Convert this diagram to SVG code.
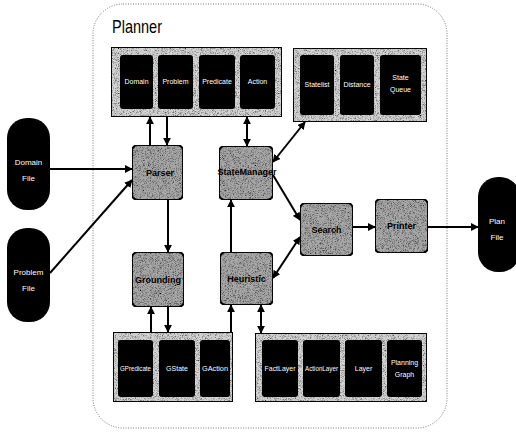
<svg xmlns="http://www.w3.org/2000/svg" width="516" height="433" viewBox="0 0 516 433">
  <defs>
    <filter id="grain" x="0" y="0" width="100%" height="100%">
      <feTurbulence type="fractalNoise" baseFrequency="1.6" numOctaves="1" seed="3" result="n"/>
      <feColorMatrix in="n" type="matrix" values="0 0 0 0 0  0 0 0 0 0  0 0 0 0 0  0 0 0 -2.6 1.45" result="dots"/>
      <feComposite in="dots" in2="SourceGraphic" operator="in" result="clip"/>
      <feMerge><feMergeNode in="SourceGraphic"/><feMergeNode in="clip"/></feMerge>
    </filter>
    <marker id="ah" viewBox="0 0 10 10" refX="9" refY="5" markerWidth="8" markerHeight="8" markerUnits="userSpaceOnUse" orient="auto-start-reverse">
      <path d="M0,0 L10,5 L0,10 z" fill="#000"/>
    </marker>
    <style>
      .frame { fill: #d4d4d4; stroke: #111; stroke-width: 2; filter: url(#grain); }
      .cell { fill: #000; }
      .mod { fill: #a8a8a8; stroke: #111; stroke-width: 2; filter: url(#grain); }
      .file { fill: #000; }
      .ct { font-family: "Liberation Sans", Arial, sans-serif; font-size: 7px; fill: #fff; text-anchor: middle; }
      .ft { font-family: "Liberation Sans", Arial, sans-serif; font-size: 8px; fill: #fff; text-anchor: middle; }
      .mt { font-family: "Liberation Sans", Arial, sans-serif; font-size: 9px; font-weight: bold; fill: #000; text-anchor: middle; }
      .edge { stroke: #000; stroke-width: 2; fill: none; }
      .bound { fill: none; stroke: #777; stroke-width: 1; stroke-dasharray: 1 1.5; }
    </style>
  </defs>

  <rect width="516" height="433" fill="#fff"/>

  <!-- planner boundary -->
  <g id="planner">
    <rect class="bound" x="93" y="4" width="354" height="424" rx="30"/>
    <text x="112" y="33" font-family="Liberation Sans, Arial, sans-serif" font-size="19" fill="#000" textLength="50" lengthAdjust="spacingAndGlyphs">Planner</text>
  </g>

  <!-- input / output files -->
  <g id="domain-file">
    <rect class="file" x="7" y="118" width="43" height="92" rx="20"/>
    <text class="ft" x="28.5" y="165">Domain</text>
    <text class="ft" x="28.5" y="181">File</text>
  </g>
  <g id="problem-file">
    <rect class="file" x="7" y="228" width="43" height="94" rx="20"/>
    <text class="ft" x="28.5" y="275">Problem</text>
    <text class="ft" x="28.5" y="291">File</text>
  </g>
  <g id="plan-file">
    <rect class="file" x="478" y="177" width="42" height="95" rx="20"/>
    <text class="ft" x="497" y="224">Plan</text>
    <text class="ft" x="497" y="240">File</text>
  </g>

  <!-- data blocks -->
  <g id="parsed-data">
    <rect class="frame" x="111" y="47" width="171" height="70"/>
    <rect class="cell" x="120" y="55" width="33" height="54" rx="3"/>
    <rect class="cell" x="158" y="55" width="35" height="54" rx="3"/>
    <rect class="cell" x="199" y="55" width="36" height="54" rx="3"/>
    <rect class="cell" x="240" y="55" width="35" height="54" rx="3"/>
    <text class="ct" x="136.5" y="84">Domain</text>
    <text class="ct" x="175.5" y="84">Problem</text>
    <text class="ct" x="217" y="84">Predicate</text>
    <text class="ct" x="257.5" y="84">Action</text>
  </g>
  <g id="state-data">
    <rect class="frame" x="293" y="48" width="134" height="74"/>
    <rect class="cell" x="300" y="55" width="34" height="60" rx="3"/>
    <rect class="cell" x="340" y="55" width="34" height="60" rx="3"/>
    <rect class="cell" x="380" y="55" width="41" height="60" rx="3"/>
    <text class="ct" x="317" y="87">Statelist</text>
    <text class="ct" x="357" y="87">Distance</text>
    <text class="ct" x="400.5" y="80">State</text>
    <text class="ct" x="400.5" y="92">Queue</text>
  </g>
  <g id="ground-data">
    <rect class="frame" x="113" y="332" width="120" height="70"/>
    <rect class="cell" x="118" y="340" width="35" height="57" rx="3"/>
    <rect class="cell" x="159" y="340" width="36" height="57" rx="3"/>
    <rect class="cell" x="200" y="340" width="30" height="57" rx="3"/>
    <text class="ct" x="135.5" y="371" textLength="31" lengthAdjust="spacingAndGlyphs">GPredicate</text>
    <text class="ct" x="177" y="371">GState</text>
    <text class="ct" x="215" y="371" textLength="26" lengthAdjust="spacingAndGlyphs">GAction</text>
  </g>
  <g id="graph-data">
    <rect class="frame" x="255" y="333" width="172" height="69"/>
    <rect class="cell" x="262" y="340" width="36" height="57" rx="3"/>
    <rect class="cell" x="303" y="340" width="37" height="57" rx="3"/>
    <rect class="cell" x="345" y="340" width="37" height="57" rx="3"/>
    <rect class="cell" x="387" y="340" width="35" height="57" rx="3"/>
    <text class="ct" x="280" y="371" textLength="31" lengthAdjust="spacingAndGlyphs">FactLayer</text>
    <text class="ct" x="321.5" y="371" textLength="33" lengthAdjust="spacingAndGlyphs">ActionLayer</text>
    <text class="ct" x="363.5" y="371">Layer</text>
    <text class="ct" x="404.5" y="365">Planning</text>
    <text class="ct" x="404.5" y="377">Graph</text>
  </g>

  <!-- processing modules -->
  <g id="parser">
    <rect class="mod" x="132" y="145" width="51" height="55" rx="6"/>
    <text class="mt" x="160" y="176">Parser</text>
  </g>
  <g id="grounding">
    <rect class="mod" x="132" y="252" width="52" height="55" rx="6"/>
    <text class="mt" x="158" y="283">Grounding</text>
  </g>
  <g id="state-manager">
    <rect class="mod" x="219" y="146" width="54" height="54" rx="6"/>
    <text class="mt" x="247" y="175">StateManager</text>
  </g>
  <g id="heuristic">
    <rect class="mod" x="220" y="252" width="53" height="53" rx="6"/>
    <text class="mt" x="246.5" y="282">Heuristic</text>
  </g>
  <g id="search">
    <rect class="mod" x="300" y="203" width="53" height="53" rx="6"/>
    <text class="mt" x="326.5" y="233">Search</text>
  </g>
  <g id="printer">
    <rect class="mod" x="375" y="199" width="53" height="54" rx="6"/>
    <text class="mt" x="401.5" y="229">Printer</text>
  </g>

  <!-- connectors -->
  <g id="connectors">
    <line class="edge" x1="50" y1="169" x2="132" y2="169" marker-end="url(#ah)"/>
    <line class="edge" x1="50" y1="273" x2="132" y2="180" marker-end="url(#ah)"/>
    <line class="edge" x1="150" y1="145" x2="150" y2="117" marker-end="url(#ah)"/>
    <line class="edge" x1="167" y1="117" x2="167" y2="145" marker-end="url(#ah)"/>
    <line class="edge" x1="247" y1="117" x2="247" y2="146" marker-start="url(#ah)" marker-end="url(#ah)"/>
    <line class="edge" x1="273" y1="162" x2="305" y2="122" marker-start="url(#ah)" marker-end="url(#ah)"/>
    <line class="edge" x1="273" y1="175" x2="300" y2="220" marker-end="url(#ah)"/>
    <line class="edge" x1="273" y1="278" x2="300" y2="237" marker-start="url(#ah)" marker-end="url(#ah)"/>
    <line class="edge" x1="231" y1="252" x2="231" y2="200" marker-end="url(#ah)"/>
    <line class="edge" x1="168" y1="200" x2="168" y2="252" marker-end="url(#ah)"/>
    <line class="edge" x1="353" y1="227" x2="375" y2="227" marker-end="url(#ah)"/>
    <line class="edge" x1="428" y1="227" x2="478" y2="227" marker-end="url(#ah)"/>
    <line class="edge" x1="151" y1="332" x2="151" y2="307" marker-end="url(#ah)"/>
    <line class="edge" x1="168" y1="307" x2="168" y2="332" marker-end="url(#ah)"/>
    <line class="edge" x1="231" y1="332" x2="231" y2="305" marker-end="url(#ah)"/>
    <line class="edge" x1="261" y1="305" x2="261" y2="333" marker-start="url(#ah)" marker-end="url(#ah)"/>
  </g>
</svg>
